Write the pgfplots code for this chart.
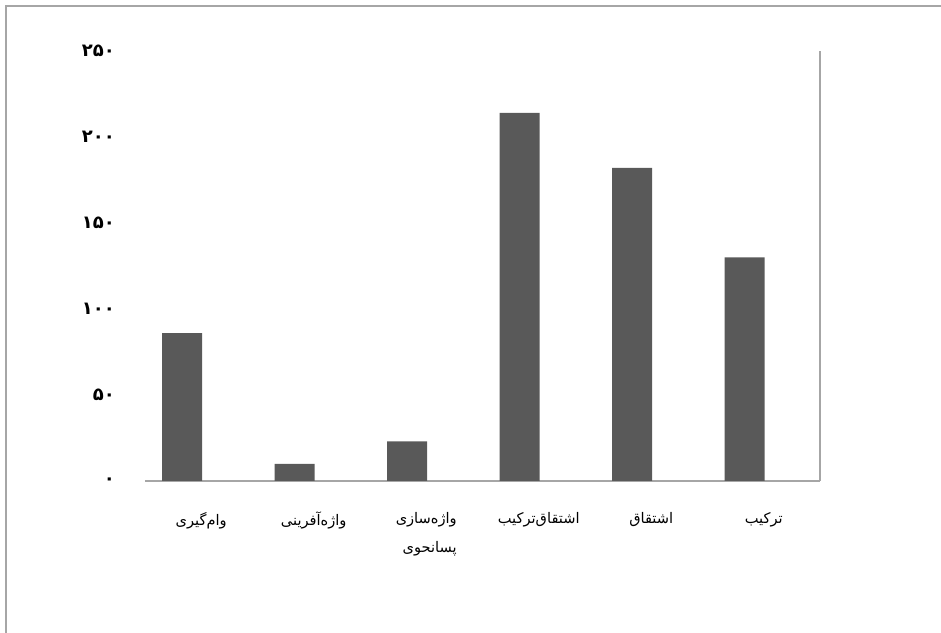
\documentclass[border=0pt]{standalone}
\usepackage{pgfplots}
\pgfplotsset{compat=1.18}
\usepackage{fontspec}
\setmainfont{DejaVu Sans}
\newfontfamily\arabicfont[Script=Arabic]{DejaVu Sans}
\TeXXeTstate=1
\definecolor{barc}{HTML}{595959}
\definecolor{linec}{HTML}{A6A6A6}
\begin{document}
\begin{tikzpicture}
\begin{axis}[
  scale only axis, width=337.5pt, height=215pt,
  xmin=-0.5, xmax=5.5, ymin=0, ymax=250,
  axis y line*=left, axis x line*=bottom,
  y axis line style={draw=none},
  x axis line style={draw=linec, line width=0.9pt},
  major tick length=0pt,
  ytick={0,50,100,150,200,250},
  yticklabels={۰,۵۰,۱۰۰,۱۵۰,۲۰۰,۲۵۰},
  yticklabel style={font=\arabicfont\bfseries\fontsize{9}{9}\selectfont, xshift=-11.5pt},
  xtick={0,1,2,3,4,5},
  xticklabels={
    {\beginR وام^^^^200cگیری\endR},
    {\beginR واژه^^^^200cآفرینی\endR},
    {\beginR واژه^^^^200cسازی\endR\\\beginR پسانحوی\endR},
    {\beginR اشتقاق^^^^200cترکیب\endR},
    {\beginR اشتقاق\endR},
    {\beginR ترکیب\endR}},
  xticklabel style={font=\arabicfont\fontsize{7.3}{14.5}\selectfont, align=right, anchor=north, yshift=-12pt},
  ybar, bar width=20pt, bar shift=-9.5pt,
  clip=false,
]
\addplot[fill=barc, draw=none] coordinates {(0,86) (1,10) (2,23) (3,214) (4,182) (5,130)};
\draw[linec, line width=0.9pt] (axis description cs:1,0) -- (axis description cs:1,1);
\coordinate (bl) at (axis description cs:-0.2148,-0.3535);
\coordinate (tr) at (axis description cs:1.1793,1.1186);
\coordinate (ftl) at (axis description cs:-0.2059,1.1047);
\end{axis}
\draw[linec, line width=1pt] (ftl |- bl) -- (ftl) -- (ftl -| tr);
\pgfresetboundingbox
\path[use as bounding box] (bl) rectangle (tr);
\end{tikzpicture}
\end{document}
